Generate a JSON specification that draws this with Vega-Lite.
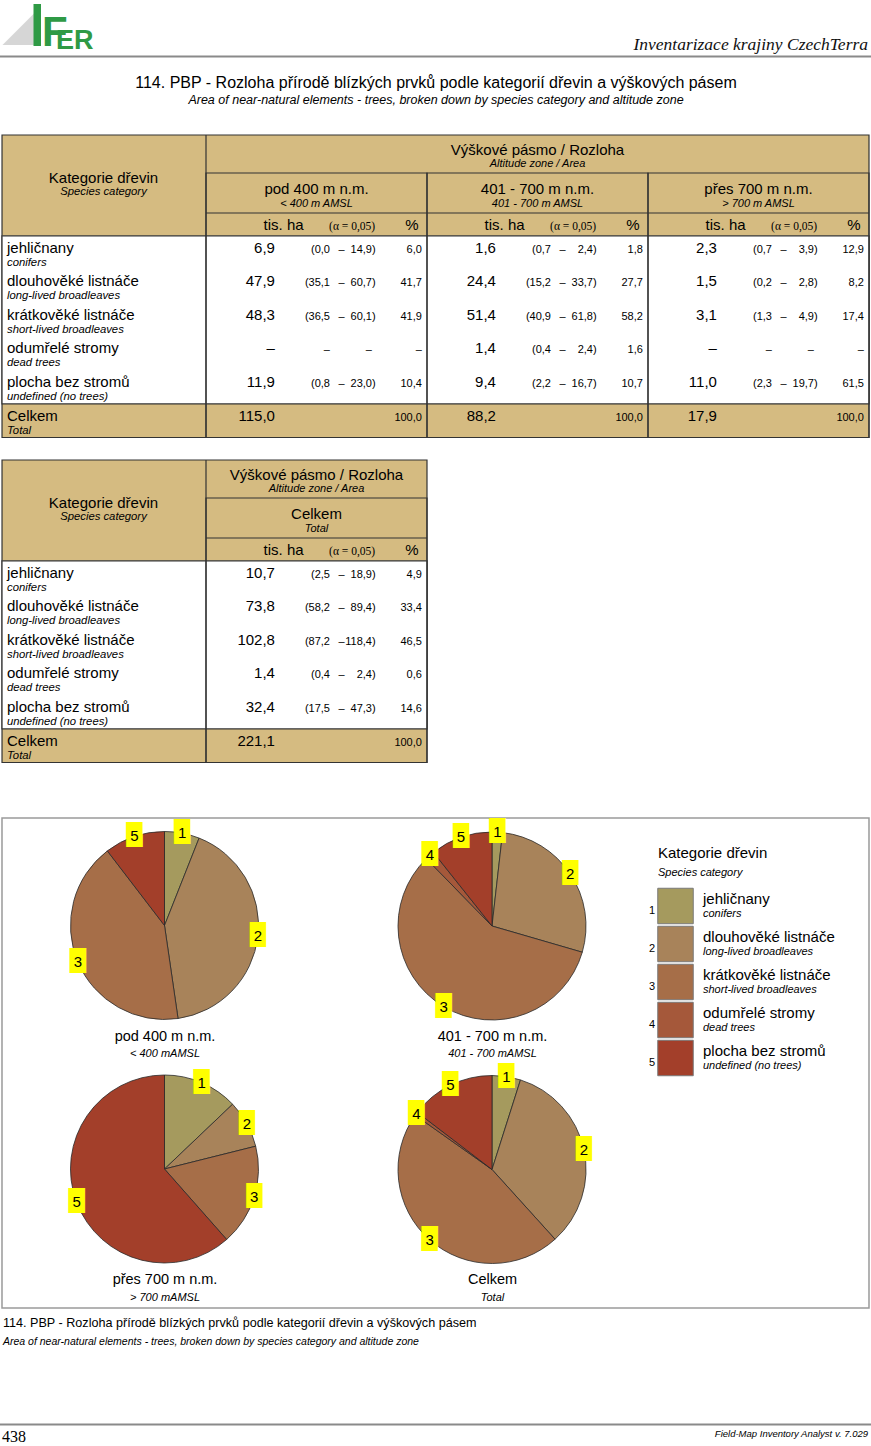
{
"$schema":"https://vega.github.io/schema/vega-lite/v6.json",
"width":871,"height":1446,"padding":0,"autosize":{"type":"none"},
"background":"#ffffff",
"config":{"view":{"stroke":null},"locale":{"number":{"decimal":",","thousands":" ","grouping":[3],"currency":["(",""]}},"text":{"font":"Liberation Sans","color":"#000000","baseline":"alphabetic"}},
"datasets":{
"zones":[
{"zone":"pod 400 m n.m.","zen":"< 400 m AMSL","pen":"< 400 mAMSL"},
{"zone":"401 - 700 m n.m.","zen":"401 - 700 m AMSL","pen":"401 - 700 mAMSL"},
{"zone":"přes 700 m n.m.","zen":"> 700 m AMSL","pen":"> 700 mAMSL"},
{"zone":"Celkem","zen":"Total","pen":"Total"}
],
"cats":[
{"k":1,"cat":"jehličnany","en":"conifers"},
{"k":2,"cat":"dlouhověké listnáče","en":"long-lived broadleaves"},
{"k":3,"cat":"krátkověké listnáče","en":"short-lived broadleaves"},
{"k":4,"cat":"odumřelé stromy","en":"dead trees"},
{"k":5,"cat":"plocha bez stromů","en":"undefined (no trees)"}
],
"area":[
{"zone":"pod 400 m n.m.","k":1,"ha":6.9,"lo":0.0,"hi":14.9,"pct":6.0},
{"zone":"pod 400 m n.m.","k":2,"ha":47.9,"lo":35.1,"hi":60.7,"pct":41.7},
{"zone":"pod 400 m n.m.","k":3,"ha":48.3,"lo":36.5,"hi":60.1,"pct":41.9},
{"zone":"pod 400 m n.m.","k":4,"ha":null,"lo":null,"hi":null,"pct":null},
{"zone":"pod 400 m n.m.","k":5,"ha":11.9,"lo":0.8,"hi":23.0,"pct":10.4},
{"zone":"401 - 700 m n.m.","k":1,"ha":1.6,"lo":0.7,"hi":2.4,"pct":1.8},
{"zone":"401 - 700 m n.m.","k":2,"ha":24.4,"lo":15.2,"hi":33.7,"pct":27.7},
{"zone":"401 - 700 m n.m.","k":3,"ha":51.4,"lo":40.9,"hi":61.8,"pct":58.2},
{"zone":"401 - 700 m n.m.","k":4,"ha":1.4,"lo":0.4,"hi":2.4,"pct":1.6},
{"zone":"401 - 700 m n.m.","k":5,"ha":9.4,"lo":2.2,"hi":16.7,"pct":10.7},
{"zone":"přes 700 m n.m.","k":1,"ha":2.3,"lo":0.7,"hi":3.9,"pct":12.9},
{"zone":"přes 700 m n.m.","k":2,"ha":1.5,"lo":0.2,"hi":2.8,"pct":8.2},
{"zone":"přes 700 m n.m.","k":3,"ha":3.1,"lo":1.3,"hi":4.9,"pct":17.4},
{"zone":"přes 700 m n.m.","k":4,"ha":null,"lo":null,"hi":null,"pct":null},
{"zone":"přes 700 m n.m.","k":5,"ha":11.0,"lo":2.3,"hi":19.7,"pct":61.5},
{"zone":"Celkem","k":1,"ha":10.7,"lo":2.5,"hi":18.9,"pct":4.9},
{"zone":"Celkem","k":2,"ha":73.8,"lo":58.2,"hi":89.4,"pct":33.4},
{"zone":"Celkem","k":3,"ha":102.8,"lo":87.2,"hi":118.4,"pct":46.5},
{"zone":"Celkem","k":4,"ha":1.4,"lo":0.4,"hi":2.4,"pct":0.6},
{"zone":"Celkem","k":5,"ha":32.4,"lo":17.5,"hi":47.3,"pct":14.6}
],
"totals":[
{"zone":"pod 400 m n.m.","ha":115.0,"pct":100.0},
{"zone":"401 - 700 m n.m.","ha":88.2,"pct":100.0},
{"zone":"přes 700 m n.m.","ha":17.9,"pct":100.0},
{"zone":"Celkem","ha":221.1,"pct":100.0}
]
},
"resolve":{"scale":{"x":"independent","y":"independent","theta":"independent"}},
"layer":[
{"data":{"values":[{}]},"mark":{"type":"point","shape":"M 1 -1 L 1 1 L -1 1 Z","size":1024,"filled":true,"fill":"#d6d6d6","opacity":1,"strokeWidth":0},"encoding":{"x":{"datum":2.124,"type":"quantitative","scale":{"domain":[0,100],"range":[0,871],"nice":false,"zero":false},"axis":null},"y":{"datum":2.006,"type":"quantitative","scale":{"domain":[0,100],"range":[0,1446],"nice":false,"zero":false},"axis":null}}},
{"data":{"values":[{}]},"mark":{"type":"rect","fill":"#2f9a45"},"encoding":{"x":{"datum":3.846,"type":"quantitative","scale":{"domain":[0,100],"range":[0,871],"nice":false,"zero":false},"axis":null},"x2":{"datum":4.707},"y":{"datum":0.277,"type":"quantitative","scale":{"domain":[0,100],"range":[0,1446],"nice":false,"zero":false},"axis":null},"y2":{"datum":3.181}}},
{"data":{"values":[{}]},"mark":{"type":"text","text":"F","fontSize":42,"fontWeight":"bold","align":"left","color":"#2f9a45"},"encoding":{"x":{"datum":4.82,"type":"quantitative","scale":{"domain":[0,100],"range":[0,871],"nice":false,"zero":false},"axis":null},"y":{"datum":3.18,"type":"quantitative","scale":{"domain":[0,100],"range":[0,1446],"nice":false,"zero":false},"axis":null}}},
{"data":{"values":[{}]},"mark":{"type":"text","text":"ER","fontSize":27,"fontWeight":"bold","align":"left","color":"#2f9a45"},"encoding":{"x":{"datum":6.429,"type":"quantitative","scale":{"domain":[0,100],"range":[0,871],"nice":false,"zero":false},"axis":null},"y":{"datum":3.389,"type":"quantitative","scale":{"domain":[0,100],"range":[0,1446],"nice":false,"zero":false},"axis":null}}},
{"data":{"values":[{}]},"mark":{"type":"text","text":"Inventarizace krajiny CzechTerra","font":"Liberation Serif","fontStyle":"italic","fontSize":17.5,"align":"right","color":"#111111"},"encoding":{"x":{"datum":99.656,"type":"quantitative","scale":{"domain":[0,100],"range":[0,871],"nice":false,"zero":false},"axis":null},"y":{"datum":3.458,"type":"quantitative","scale":{"domain":[0,100],"range":[0,1446],"nice":false,"zero":false},"axis":null}}},
{"data":{"values":[{}]},"mark":{"type":"rule","color":"#8a8a8a","strokeWidth":2},"encoding":{"x":{"datum":0,"type":"quantitative","scale":{"domain":[0,100],"range":[0,871],"nice":false,"zero":false},"axis":null},"x2":{"datum":100},"y":{"datum":3.907,"type":"quantitative","scale":{"domain":[0,100],"range":[0,1446],"nice":false,"zero":false},"axis":null}}},
{"data":{"values":[{}]},"mark":{"type":"text","text":"114. PBP - Rozloha přírodě blízkých prvků podle kategorií dřevin a výškových pásem","fontSize":16,"align":"center"},"encoding":{"x":{"datum":50.057,"type":"quantitative","scale":{"domain":[0,100],"range":[0,871],"nice":false,"zero":false},"axis":null},"y":{"datum":6.086,"type":"quantitative","scale":{"domain":[0,100],"range":[0,1446],"nice":false,"zero":false},"axis":null}}},
{"data":{"values":[{}]},"mark":{"type":"text","text":"Area of near-natural elements - trees, broken down by species category and altitude zone","fontSize":12.5,"fontStyle":"italic","align":"center"},"encoding":{"x":{"datum":50.057,"type":"quantitative","scale":{"domain":[0,100],"range":[0,871],"nice":false,"zero":false},"axis":null},"y":{"datum":7.192,"type":"quantitative","scale":{"domain":[0,100],"range":[0,1446],"nice":false,"zero":false},"axis":null}}},

{"data":{"values":[{}]},"mark":{"type":"rect","fill":"#D5BB81","stroke":"#333333","strokeWidth":1.2},"encoding":{"x":{"datum":-0.923,"type":"quantitative","scale":{"domain":[0,3],"range":[206,869],"nice":false,"zero":false},"axis":null},"x2":{"datum":3},"y":{"datum":-2.5,"type":"quantitative","scale":{"domain":[-2.5,6.5],"range":[135,437.5],"nice":false,"zero":false},"axis":null},"y2":{"datum":6.5}}},
{"data":{"values":[{}]},"mark":{"type":"rect","fill":"#ffffff","stroke":"#333333","strokeWidth":1.2},"encoding":{"x":{"datum":-0.923,"type":"quantitative","scale":{"domain":[0,3],"range":[206,869],"nice":false,"zero":false},"axis":null},"x2":{"datum":3},"y":{"datum":0.5,"type":"quantitative","scale":{"domain":[-2.5,6.5],"range":[135,437.5],"nice":false,"zero":false},"axis":null},"y2":{"datum":5.5}}},
{"data":{"name":"zones"},"transform":[{"filter":"datum.zone !== 'Celkem'"}],"mark":{"type":"rect","filled":false,"stroke":"#333333","strokeWidth":1.2},"encoding":{"x":{"field":"zone","type":"nominal","scale":{"type":"band","domain":["pod 400 m n.m.","401 - 700 m n.m.","přes 700 m n.m."],"range":[206,869],"paddingInner":0,"paddingOuter":0},"axis":null},"y":{"datum":-1.37,"type":"quantitative","scale":{"domain":[-2.5,6.5],"range":[135,437.5],"nice":false,"zero":false},"axis":null},"y2":{"datum":6.5}}},
{"data":{"values":[{}]},"mark":{"type":"rule","color":"#333333","strokeWidth":1.2},"encoding":{"x":{"datum":0,"type":"quantitative","scale":{"domain":[0,3],"range":[206,869],"nice":false,"zero":false},"axis":null},"x2":{"datum":3},"y":{"datum":-0.18,"type":"quantitative","scale":{"domain":[-2.5,6.5],"range":[135,437.5],"nice":false,"zero":false},"axis":null}}},
{"data":{"values":[{}]},"mark":{"type":"rule","color":"#333333","strokeWidth":1.2},"encoding":{"x":{"datum":0,"type":"quantitative","scale":{"domain":[0,3],"range":[206,869],"nice":false,"zero":false},"axis":null},"y":{"datum":-2.5,"type":"quantitative","scale":{"domain":[-2.5,6.5],"range":[135,437.5],"nice":false,"zero":false},"axis":null},"y2":{"datum":6.5}}},
{"data":{"values":[{}]},"mark":{"type":"text","text":"Kategorie dřevin","fontSize":15,"align":"center"},"encoding":{"x":{"datum":-0.464,"type":"quantitative","scale":{"domain":[0,3],"range":[206,869],"nice":false,"zero":false},"axis":null},"y":{"datum":-1.072,"type":"quantitative","scale":{"domain":[-2.5,6.5],"range":[135,437.5],"nice":false,"zero":false},"axis":null}}},
{"data":{"values":[{}]},"mark":{"type":"text","text":"Species category","fontSize":11.3,"fontStyle":"italic","align":"center"},"encoding":{"x":{"datum":-0.464,"type":"quantitative","scale":{"domain":[0,3],"range":[206,869],"nice":false,"zero":false},"axis":null},"y":{"datum":-0.715,"type":"quantitative","scale":{"domain":[-2.5,6.5],"range":[135,437.5],"nice":false,"zero":false},"axis":null}}},
{"data":{"values":[{}]},"mark":{"type":"text","text":"Výškové pásmo / Rozloha","fontSize":15,"align":"center"},"encoding":{"x":{"datum":1.5,"type":"quantitative","scale":{"domain":[0,3],"range":[206,869],"nice":false,"zero":false},"axis":null},"y":{"datum":-1.905,"type":"quantitative","scale":{"domain":[-2.5,6.5],"range":[135,437.5],"nice":false,"zero":false},"axis":null}}},
{"data":{"values":[{}]},"mark":{"type":"text","text":"Altitude zone / Area","fontSize":11,"fontStyle":"italic","align":"center"},"encoding":{"x":{"datum":1.5,"type":"quantitative","scale":{"domain":[0,3],"range":[206,869],"nice":false,"zero":false},"axis":null},"y":{"datum":-1.548,"type":"quantitative","scale":{"domain":[-2.5,6.5],"range":[135,437.5],"nice":false,"zero":false},"axis":null}}},
{"data":{"name":"zones"},"transform":[{"filter":"datum.zone !== 'Celkem'"}],"mark":{"type":"text","fontSize":15,"align":"center"},"encoding":{"text":{"field":"zone","type":"nominal"},"x":{"field":"zone","type":"nominal","scale":{"type":"band","domain":["pod 400 m n.m.","401 - 700 m n.m.","přes 700 m n.m."],"range":[206,869],"paddingInner":0,"paddingOuter":0},"axis":null},"y":{"datum":-0.745,"type":"quantitative","scale":{"domain":[-2.5,6.5],"range":[135,437.5],"nice":false,"zero":false},"axis":null}}},
{"data":{"name":"zones"},"transform":[{"filter":"datum.zone !== 'Celkem'"}],"mark":{"type":"text","fontSize":11,"fontStyle":"italic","align":"center"},"encoding":{"text":{"field":"zen","type":"nominal"},"x":{"field":"zone","type":"nominal","scale":{"type":"band","domain":["pod 400 m n.m.","401 - 700 m n.m.","přes 700 m n.m."],"range":[206,869],"paddingInner":0,"paddingOuter":0},"axis":null},"y":{"datum":-0.358,"type":"quantitative","scale":{"domain":[-2.5,6.5],"range":[135,437.5],"nice":false,"zero":false},"axis":null}}},
{"data":{"name":"zones"},"transform":[{"filter":"datum.zone !== 'Celkem'"}],"mark":{"type":"text","text":"tis. ha","fontSize":15,"align":"center"},"encoding":{"x":{"field":"zone","type":"nominal","bandPosition":0.351,"scale":{"type":"band","domain":["pod 400 m n.m.","401 - 700 m n.m.","přes 700 m n.m."],"range":[206,869],"paddingInner":0,"paddingOuter":0},"axis":null},"y":{"datum":0.3265,"type":"quantitative","scale":{"domain":[-2.5,6.5],"range":[135,437.5],"nice":false,"zero":false},"axis":null}}},
{"data":{"name":"zones"},"transform":[{"filter":"datum.zone !== 'Celkem'"}],"mark":{"type":"text","text":"(α = 0,05)","font":"Liberation Serif","fontSize":11.5,"align":"center"},"encoding":{"x":{"field":"zone","type":"nominal","bandPosition":0.661,"scale":{"type":"band","domain":["pod 400 m n.m.","401 - 700 m n.m.","přes 700 m n.m."],"range":[206,869],"paddingInner":0,"paddingOuter":0},"axis":null},"y":{"datum":0.3265,"type":"quantitative","scale":{"domain":[-2.5,6.5],"range":[135,437.5],"nice":false,"zero":false},"axis":null}}},
{"data":{"name":"zones"},"transform":[{"filter":"datum.zone !== 'Celkem'"}],"mark":{"type":"text","text":"%","fontSize":15,"align":"center"},"encoding":{"x":{"field":"zone","type":"nominal","bandPosition":0.932,"scale":{"type":"band","domain":["pod 400 m n.m.","401 - 700 m n.m.","přes 700 m n.m."],"range":[206,869],"paddingInner":0,"paddingOuter":0},"axis":null},"y":{"datum":0.3265,"type":"quantitative","scale":{"domain":[-2.5,6.5],"range":[135,437.5],"nice":false,"zero":false},"axis":null}}},
{"data":{"name":"cats"},"mark":{"type":"text","fontSize":15,"align":"left"},"encoding":{"text":{"field":"cat","type":"nominal"},"x":{"datum":-0.9005,"type":"quantitative","scale":{"domain":[0,3],"range":[206,869],"nice":false,"zero":false},"axis":null},"y":{"field":"k","type":"quantitative","scale":{"domain":[-2.5,6.5],"range":[135,437.5],"nice":false,"zero":false},"axis":null}}},
{"data":{"name":"cats"},"mark":{"type":"text","fontSize":11.3,"fontStyle":"italic","align":"left"},"encoding":{"text":{"field":"en","type":"nominal"},"x":{"datum":-0.9005,"type":"quantitative","scale":{"domain":[0,3],"range":[206,869],"nice":false,"zero":false},"axis":null},"y":{"field":"k","type":"quantitative","scale":{"domain":[-2.5,6.5],"range":[148,450.5],"nice":false,"zero":false},"axis":null}}},
{"data":{"values":[{}]},"mark":{"type":"text","text":"Celkem","fontSize":15,"align":"left"},"encoding":{"x":{"datum":-0.9005,"type":"quantitative","scale":{"domain":[0,3],"range":[206,869],"nice":false,"zero":false},"axis":null},"y":{"datum":6,"type":"quantitative","scale":{"domain":[-2.5,6.5],"range":[135,437.5],"nice":false,"zero":false},"axis":null}}},
{"data":{"values":[{}]},"mark":{"type":"text","text":"Total","fontSize":11.3,"fontStyle":"italic","align":"left"},"encoding":{"x":{"datum":-0.9005,"type":"quantitative","scale":{"domain":[0,3],"range":[206,869],"nice":false,"zero":false},"axis":null},"y":{"datum":6,"type":"quantitative","scale":{"domain":[-2.5,6.5],"range":[148,450.5],"nice":false,"zero":false},"axis":null}}},
{"data":{"name":"area"},"transform":[{"filter":"datum.zone !== 'Celkem'"}],"mark":{"type":"text","fontSize":15,"align":"right"},"encoding":{"text":{"field":"ha","type":"quantitative","format":".1f","condition":{"test":"datum.ha === null","value":"–"}},"x":{"field":"zone","type":"nominal","bandPosition":0.312,"scale":{"type":"band","domain":["pod 400 m n.m.","401 - 700 m n.m.","přes 700 m n.m."],"range":[206,869],"paddingInner":0,"paddingOuter":0},"axis":null},"y":{"field":"k","type":"quantitative","scale":{"domain":[-2.5,6.5],"range":[135,437.5],"nice":false,"zero":false},"axis":null}}},
{"data":{"name":"area"},"transform":[{"filter":"datum.zone !== 'Celkem'"}],"mark":{"type":"text","fontSize":11,"align":"right"},"encoding":{"text":{"field":"lo","type":"quantitative","format":"$.1f","condition":{"test":"datum.lo === null","value":"–"}},"x":{"field":"zone","type":"nominal","bandPosition":0.561,"scale":{"type":"band","domain":["pod 400 m n.m.","401 - 700 m n.m.","přes 700 m n.m."],"range":[206,869],"paddingInner":0,"paddingOuter":0},"axis":null},"y":{"field":"k","type":"quantitative","scale":{"domain":[-2.5,6.5],"range":[135,437.5],"nice":false,"zero":false},"axis":null}}},
{"data":{"name":"area"},"transform":[{"filter":"datum.zone !== 'Celkem' && datum.lo !== null"}],"mark":{"type":"text","text":"–","fontSize":11,"align":"center"},"encoding":{"x":{"field":"zone","type":"nominal","bandPosition":0.613,"scale":{"type":"band","domain":["pod 400 m n.m.","401 - 700 m n.m.","přes 700 m n.m."],"range":[206,869],"paddingInner":0,"paddingOuter":0},"axis":null},"y":{"field":"k","type":"quantitative","scale":{"domain":[-2.5,6.5],"range":[135,437.5],"nice":false,"zero":false},"axis":null}}},
{"data":{"name":"area"},"transform":[{"filter":"datum.zone !== 'Celkem'"}],"mark":{"type":"text","fontSize":11,"align":"right"},"encoding":{"text":{"field":"hi","type":"quantitative","format":".1f","condition":{"test":"datum.hi === null","value":"–"}},"x":{"field":"zone","type":"nominal","bandPosition":0.751,"scale":{"type":"band","domain":["pod 400 m n.m.","401 - 700 m n.m.","přes 700 m n.m."],"range":[206,869],"paddingInner":0,"paddingOuter":0},"axis":null},"y":{"field":"k","type":"quantitative","scale":{"domain":[-2.5,6.5],"range":[135,437.5],"nice":false,"zero":false},"axis":null}}},
{"data":{"name":"area"},"transform":[{"filter":"datum.zone !== 'Celkem' && datum.hi !== null"}],"mark":{"type":"text","text":")","fontSize":11,"align":"left"},"encoding":{"x":{"field":"zone","type":"nominal","bandPosition":0.751,"scale":{"type":"band","domain":["pod 400 m n.m.","401 - 700 m n.m.","přes 700 m n.m."],"range":[206,869],"paddingInner":0,"paddingOuter":0},"axis":null},"y":{"field":"k","type":"quantitative","scale":{"domain":[-2.5,6.5],"range":[135,437.5],"nice":false,"zero":false},"axis":null}}},
{"data":{"name":"area"},"transform":[{"filter":"datum.zone !== 'Celkem'"}],"mark":{"type":"text","fontSize":11,"align":"right"},"encoding":{"text":{"field":"pct","type":"quantitative","format":".1f","condition":{"test":"datum.pct === null","value":"–"}},"x":{"field":"zone","type":"nominal","bandPosition":0.977,"scale":{"type":"band","domain":["pod 400 m n.m.","401 - 700 m n.m.","přes 700 m n.m."],"range":[206,869],"paddingInner":0,"paddingOuter":0},"axis":null},"y":{"field":"k","type":"quantitative","scale":{"domain":[-2.5,6.5],"range":[135,437.5],"nice":false,"zero":false},"axis":null}}},
{"data":{"name":"totals"},"transform":[{"filter":"datum.zone !== 'Celkem'"}],"mark":{"type":"text","fontSize":15,"align":"right"},"encoding":{"text":{"field":"ha","type":"quantitative","format":".1f"},"x":{"field":"zone","type":"nominal","bandPosition":0.312,"scale":{"type":"band","domain":["pod 400 m n.m.","401 - 700 m n.m.","přes 700 m n.m."],"range":[206,869],"paddingInner":0,"paddingOuter":0},"axis":null},"y":{"datum":6,"type":"quantitative","scale":{"domain":[-2.5,6.5],"range":[135,437.5],"nice":false,"zero":false},"axis":null}}},
{"data":{"name":"totals"},"transform":[{"filter":"datum.zone !== 'Celkem'"}],"mark":{"type":"text","fontSize":11,"align":"right"},"encoding":{"text":{"field":"pct","type":"quantitative","format":".1f"},"x":{"field":"zone","type":"nominal","bandPosition":0.977,"scale":{"type":"band","domain":["pod 400 m n.m.","401 - 700 m n.m.","přes 700 m n.m."],"range":[206,869],"paddingInner":0,"paddingOuter":0},"axis":null},"y":{"datum":6,"type":"quantitative","scale":{"domain":[-2.5,6.5],"range":[135,437.5],"nice":false,"zero":false},"axis":null}}},

{"data":{"values":[{}]},"mark":{"type":"rect","fill":"#D5BB81","stroke":"#333333","strokeWidth":1.2},"encoding":{"x":{"datum":-0.923,"type":"quantitative","scale":{"domain":[0,1],"range":[206,427],"nice":false,"zero":false},"axis":null},"x2":{"datum":1},"y":{"datum":-2.5,"type":"quantitative","scale":{"domain":[-2.5,6.5],"range":[460,762.5],"nice":false,"zero":false},"axis":null},"y2":{"datum":6.5}}},
{"data":{"values":[{}]},"mark":{"type":"rect","fill":"#ffffff","stroke":"#333333","strokeWidth":1.2},"encoding":{"x":{"datum":-0.923,"type":"quantitative","scale":{"domain":[0,1],"range":[206,427],"nice":false,"zero":false},"axis":null},"x2":{"datum":1},"y":{"datum":0.5,"type":"quantitative","scale":{"domain":[-2.5,6.5],"range":[460,762.5],"nice":false,"zero":false},"axis":null},"y2":{"datum":5.5}}},
{"data":{"name":"zones"},"transform":[{"filter":"datum.zone === 'Celkem'"}],"mark":{"type":"rect","filled":false,"stroke":"#333333","strokeWidth":1.2},"encoding":{"x":{"field":"zone","type":"nominal","scale":{"type":"band","domain":["Celkem"],"range":[206,427],"paddingInner":0,"paddingOuter":0},"axis":null},"y":{"datum":-1.37,"type":"quantitative","scale":{"domain":[-2.5,6.5],"range":[460,762.5],"nice":false,"zero":false},"axis":null},"y2":{"datum":6.5}}},
{"data":{"values":[{}]},"mark":{"type":"rule","color":"#333333","strokeWidth":1.2},"encoding":{"x":{"datum":0,"type":"quantitative","scale":{"domain":[0,1],"range":[206,427],"nice":false,"zero":false},"axis":null},"x2":{"datum":1},"y":{"datum":-0.18,"type":"quantitative","scale":{"domain":[-2.5,6.5],"range":[460,762.5],"nice":false,"zero":false},"axis":null}}},
{"data":{"values":[{}]},"mark":{"type":"rule","color":"#333333","strokeWidth":1.2},"encoding":{"x":{"datum":0,"type":"quantitative","scale":{"domain":[0,1],"range":[206,427],"nice":false,"zero":false},"axis":null},"y":{"datum":-2.5,"type":"quantitative","scale":{"domain":[-2.5,6.5],"range":[460,762.5],"nice":false,"zero":false},"axis":null},"y2":{"datum":6.5}}},
{"data":{"values":[{}]},"mark":{"type":"text","text":"Kategorie dřevin","fontSize":15,"align":"center"},"encoding":{"x":{"datum":-0.464,"type":"quantitative","scale":{"domain":[0,1],"range":[206,427],"nice":false,"zero":false},"axis":null},"y":{"datum":-1.072,"type":"quantitative","scale":{"domain":[-2.5,6.5],"range":[460,762.5],"nice":false,"zero":false},"axis":null}}},
{"data":{"values":[{}]},"mark":{"type":"text","text":"Species category","fontSize":11.3,"fontStyle":"italic","align":"center"},"encoding":{"x":{"datum":-0.464,"type":"quantitative","scale":{"domain":[0,1],"range":[206,427],"nice":false,"zero":false},"axis":null},"y":{"datum":-0.715,"type":"quantitative","scale":{"domain":[-2.5,6.5],"range":[460,762.5],"nice":false,"zero":false},"axis":null}}},
{"data":{"values":[{}]},"mark":{"type":"text","text":"Výškové pásmo / Rozloha","fontSize":15,"align":"center"},"encoding":{"x":{"datum":0.5,"type":"quantitative","scale":{"domain":[0,1],"range":[206,427],"nice":false,"zero":false},"axis":null},"y":{"datum":-1.905,"type":"quantitative","scale":{"domain":[-2.5,6.5],"range":[460,762.5],"nice":false,"zero":false},"axis":null}}},
{"data":{"values":[{}]},"mark":{"type":"text","text":"Altitude zone / Area","fontSize":11,"fontStyle":"italic","align":"center"},"encoding":{"x":{"datum":0.5,"type":"quantitative","scale":{"domain":[0,1],"range":[206,427],"nice":false,"zero":false},"axis":null},"y":{"datum":-1.548,"type":"quantitative","scale":{"domain":[-2.5,6.5],"range":[460,762.5],"nice":false,"zero":false},"axis":null}}},
{"data":{"name":"zones"},"transform":[{"filter":"datum.zone === 'Celkem'"}],"mark":{"type":"text","fontSize":15,"align":"center"},"encoding":{"text":{"field":"zone","type":"nominal"},"x":{"field":"zone","type":"nominal","scale":{"type":"band","domain":["Celkem"],"range":[206,427],"paddingInner":0,"paddingOuter":0},"axis":null},"y":{"datum":-0.745,"type":"quantitative","scale":{"domain":[-2.5,6.5],"range":[460,762.5],"nice":false,"zero":false},"axis":null}}},
{"data":{"name":"zones"},"transform":[{"filter":"datum.zone === 'Celkem'"}],"mark":{"type":"text","fontSize":11,"fontStyle":"italic","align":"center"},"encoding":{"text":{"field":"zen","type":"nominal"},"x":{"field":"zone","type":"nominal","scale":{"type":"band","domain":["Celkem"],"range":[206,427],"paddingInner":0,"paddingOuter":0},"axis":null},"y":{"datum":-0.358,"type":"quantitative","scale":{"domain":[-2.5,6.5],"range":[460,762.5],"nice":false,"zero":false},"axis":null}}},
{"data":{"name":"zones"},"transform":[{"filter":"datum.zone === 'Celkem'"}],"mark":{"type":"text","text":"tis. ha","fontSize":15,"align":"center"},"encoding":{"x":{"field":"zone","type":"nominal","bandPosition":0.351,"scale":{"type":"band","domain":["Celkem"],"range":[206,427],"paddingInner":0,"paddingOuter":0},"axis":null},"y":{"datum":0.3265,"type":"quantitative","scale":{"domain":[-2.5,6.5],"range":[460,762.5],"nice":false,"zero":false},"axis":null}}},
{"data":{"name":"zones"},"transform":[{"filter":"datum.zone === 'Celkem'"}],"mark":{"type":"text","text":"(α = 0,05)","font":"Liberation Serif","fontSize":11.5,"align":"center"},"encoding":{"x":{"field":"zone","type":"nominal","bandPosition":0.661,"scale":{"type":"band","domain":["Celkem"],"range":[206,427],"paddingInner":0,"paddingOuter":0},"axis":null},"y":{"datum":0.3265,"type":"quantitative","scale":{"domain":[-2.5,6.5],"range":[460,762.5],"nice":false,"zero":false},"axis":null}}},
{"data":{"name":"zones"},"transform":[{"filter":"datum.zone === 'Celkem'"}],"mark":{"type":"text","text":"%","fontSize":15,"align":"center"},"encoding":{"x":{"field":"zone","type":"nominal","bandPosition":0.932,"scale":{"type":"band","domain":["Celkem"],"range":[206,427],"paddingInner":0,"paddingOuter":0},"axis":null},"y":{"datum":0.3265,"type":"quantitative","scale":{"domain":[-2.5,6.5],"range":[460,762.5],"nice":false,"zero":false},"axis":null}}},
{"data":{"name":"cats"},"mark":{"type":"text","fontSize":15,"align":"left"},"encoding":{"text":{"field":"cat","type":"nominal"},"x":{"datum":-0.9005,"type":"quantitative","scale":{"domain":[0,1],"range":[206,427],"nice":false,"zero":false},"axis":null},"y":{"field":"k","type":"quantitative","scale":{"domain":[-2.5,6.5],"range":[460,762.5],"nice":false,"zero":false},"axis":null}}},
{"data":{"name":"cats"},"mark":{"type":"text","fontSize":11.3,"fontStyle":"italic","align":"left"},"encoding":{"text":{"field":"en","type":"nominal"},"x":{"datum":-0.9005,"type":"quantitative","scale":{"domain":[0,1],"range":[206,427],"nice":false,"zero":false},"axis":null},"y":{"field":"k","type":"quantitative","scale":{"domain":[-2.5,6.5],"range":[473,775.5],"nice":false,"zero":false},"axis":null}}},
{"data":{"values":[{}]},"mark":{"type":"text","text":"Celkem","fontSize":15,"align":"left"},"encoding":{"x":{"datum":-0.9005,"type":"quantitative","scale":{"domain":[0,1],"range":[206,427],"nice":false,"zero":false},"axis":null},"y":{"datum":6,"type":"quantitative","scale":{"domain":[-2.5,6.5],"range":[460,762.5],"nice":false,"zero":false},"axis":null}}},
{"data":{"values":[{}]},"mark":{"type":"text","text":"Total","fontSize":11.3,"fontStyle":"italic","align":"left"},"encoding":{"x":{"datum":-0.9005,"type":"quantitative","scale":{"domain":[0,1],"range":[206,427],"nice":false,"zero":false},"axis":null},"y":{"datum":6,"type":"quantitative","scale":{"domain":[-2.5,6.5],"range":[473,775.5],"nice":false,"zero":false},"axis":null}}},
{"data":{"name":"area"},"transform":[{"filter":"datum.zone === 'Celkem'"}],"mark":{"type":"text","fontSize":15,"align":"right"},"encoding":{"text":{"field":"ha","type":"quantitative","format":".1f","condition":{"test":"datum.ha === null","value":"–"}},"x":{"field":"zone","type":"nominal","bandPosition":0.312,"scale":{"type":"band","domain":["Celkem"],"range":[206,427],"paddingInner":0,"paddingOuter":0},"axis":null},"y":{"field":"k","type":"quantitative","scale":{"domain":[-2.5,6.5],"range":[460,762.5],"nice":false,"zero":false},"axis":null}}},
{"data":{"name":"area"},"transform":[{"filter":"datum.zone === 'Celkem'"}],"mark":{"type":"text","fontSize":11,"align":"right"},"encoding":{"text":{"field":"lo","type":"quantitative","format":"$.1f","condition":{"test":"datum.lo === null","value":"–"}},"x":{"field":"zone","type":"nominal","bandPosition":0.561,"scale":{"type":"band","domain":["Celkem"],"range":[206,427],"paddingInner":0,"paddingOuter":0},"axis":null},"y":{"field":"k","type":"quantitative","scale":{"domain":[-2.5,6.5],"range":[460,762.5],"nice":false,"zero":false},"axis":null}}},
{"data":{"name":"area"},"transform":[{"filter":"datum.zone === 'Celkem' && datum.lo !== null"}],"mark":{"type":"text","text":"–","fontSize":11,"align":"center"},"encoding":{"x":{"field":"zone","type":"nominal","bandPosition":0.613,"scale":{"type":"band","domain":["Celkem"],"range":[206,427],"paddingInner":0,"paddingOuter":0},"axis":null},"y":{"field":"k","type":"quantitative","scale":{"domain":[-2.5,6.5],"range":[460,762.5],"nice":false,"zero":false},"axis":null}}},
{"data":{"name":"area"},"transform":[{"filter":"datum.zone === 'Celkem'"}],"mark":{"type":"text","fontSize":11,"align":"right"},"encoding":{"text":{"field":"hi","type":"quantitative","format":".1f","condition":{"test":"datum.hi === null","value":"–"}},"x":{"field":"zone","type":"nominal","bandPosition":0.751,"scale":{"type":"band","domain":["Celkem"],"range":[206,427],"paddingInner":0,"paddingOuter":0},"axis":null},"y":{"field":"k","type":"quantitative","scale":{"domain":[-2.5,6.5],"range":[460,762.5],"nice":false,"zero":false},"axis":null}}},
{"data":{"name":"area"},"transform":[{"filter":"datum.zone === 'Celkem' && datum.hi !== null"}],"mark":{"type":"text","text":")","fontSize":11,"align":"left"},"encoding":{"x":{"field":"zone","type":"nominal","bandPosition":0.751,"scale":{"type":"band","domain":["Celkem"],"range":[206,427],"paddingInner":0,"paddingOuter":0},"axis":null},"y":{"field":"k","type":"quantitative","scale":{"domain":[-2.5,6.5],"range":[460,762.5],"nice":false,"zero":false},"axis":null}}},
{"data":{"name":"area"},"transform":[{"filter":"datum.zone === 'Celkem'"}],"mark":{"type":"text","fontSize":11,"align":"right"},"encoding":{"text":{"field":"pct","type":"quantitative","format":".1f","condition":{"test":"datum.pct === null","value":"–"}},"x":{"field":"zone","type":"nominal","bandPosition":0.977,"scale":{"type":"band","domain":["Celkem"],"range":[206,427],"paddingInner":0,"paddingOuter":0},"axis":null},"y":{"field":"k","type":"quantitative","scale":{"domain":[-2.5,6.5],"range":[460,762.5],"nice":false,"zero":false},"axis":null}}},
{"data":{"name":"totals"},"transform":[{"filter":"datum.zone === 'Celkem'"}],"mark":{"type":"text","fontSize":15,"align":"right"},"encoding":{"text":{"field":"ha","type":"quantitative","format":".1f"},"x":{"field":"zone","type":"nominal","bandPosition":0.312,"scale":{"type":"band","domain":["Celkem"],"range":[206,427],"paddingInner":0,"paddingOuter":0},"axis":null},"y":{"datum":6,"type":"quantitative","scale":{"domain":[-2.5,6.5],"range":[460,762.5],"nice":false,"zero":false},"axis":null}}},
{"data":{"name":"totals"},"transform":[{"filter":"datum.zone === 'Celkem'"}],"mark":{"type":"text","fontSize":11,"align":"right"},"encoding":{"text":{"field":"pct","type":"quantitative","format":".1f"},"x":{"field":"zone","type":"nominal","bandPosition":0.977,"scale":{"type":"band","domain":["Celkem"],"range":[206,427],"paddingInner":0,"paddingOuter":0},"axis":null},"y":{"datum":6,"type":"quantitative","scale":{"domain":[-2.5,6.5],"range":[460,762.5],"nice":false,"zero":false},"axis":null}}},

{"data":{"values":[{}]},"mark":{"type":"rect","filled":false,"stroke":"#9a9a9a","strokeWidth":1.5},"encoding":{"x":{"datum":0.2296,"type":"quantitative","scale":{"domain":[0,100],"range":[0,871],"nice":false,"zero":false},"axis":null},"x2":{"datum":99.77},"y":{"datum":56.57,"type":"quantitative","scale":{"domain":[0,100],"range":[0,1446],"nice":false,"zero":false},"axis":null},"y2":{"datum":90.456}}},

{"data":{"name":"area"},"transform":[{"filter":"datum.zone === 'pod 400 m n.m.' && datum.pct > 0"}],"mark":{"type":"arc","radius":94,"stroke":"#2a2a2a","strokeWidth":0.8},"encoding":{"theta":{"field":"pct","type":"quantitative","stack":true},"order":{"field":"k","type":"quantitative"},"color":{"field":"k","type":"ordinal","scale":{"domain":[1,2,3,4,5],"range":["#A59A5E","#A8835A","#A66E48","#A5583A","#A33F2A"]},"legend":null},"x":{"field":"zone","type":"nominal","scale":{"type":"point","domain":["pod 400 m n.m.","401 - 700 m n.m."],"range":[164.5,492],"padding":0},"axis":null},"y":{"field":"zone","type":"nominal","scale":{"type":"point","domain":["pod 400 m n.m.","401 - 700 m n.m."],"range":[925.5,926],"padding":0},"axis":null}}},
{"data":{"name":"area"},"transform":[{"filter":"datum.zone === '401 - 700 m n.m.' && datum.pct > 0"}],"mark":{"type":"arc","radius":94,"stroke":"#2a2a2a","strokeWidth":0.8},"encoding":{"theta":{"field":"pct","type":"quantitative","stack":true},"order":{"field":"k","type":"quantitative"},"color":{"field":"k","type":"ordinal","scale":{"domain":[1,2,3,4,5],"range":["#A59A5E","#A8835A","#A66E48","#A5583A","#A33F2A"]},"legend":null},"x":{"field":"zone","type":"nominal","scale":{"type":"point","domain":["pod 400 m n.m.","401 - 700 m n.m."],"range":[164.5,492],"padding":0},"axis":null},"y":{"field":"zone","type":"nominal","scale":{"type":"point","domain":["pod 400 m n.m.","401 - 700 m n.m."],"range":[925.5,926],"padding":0},"axis":null}}},
{"data":{"name":"area"},"transform":[{"filter":"datum.zone === 'přes 700 m n.m.' && datum.pct > 0"}],"mark":{"type":"arc","radius":94,"stroke":"#2a2a2a","strokeWidth":0.8},"encoding":{"theta":{"field":"pct","type":"quantitative","stack":true},"order":{"field":"k","type":"quantitative"},"color":{"field":"k","type":"ordinal","scale":{"domain":[1,2,3,4,5],"range":["#A59A5E","#A8835A","#A66E48","#A5583A","#A33F2A"]},"legend":null},"x":{"field":"zone","type":"nominal","scale":{"type":"point","domain":["přes 700 m n.m.","Celkem"],"range":[164.5,492],"padding":0},"axis":null},"y":{"field":"zone","type":"nominal","scale":{"type":"point","domain":["přes 700 m n.m.","Celkem"],"range":[1169,1169.5],"padding":0},"axis":null}}},
{"data":{"name":"area"},"transform":[{"filter":"datum.zone === 'Celkem' && datum.pct > 0"}],"mark":{"type":"arc","radius":94,"stroke":"#2a2a2a","strokeWidth":0.8},"encoding":{"theta":{"field":"pct","type":"quantitative","stack":true},"order":{"field":"k","type":"quantitative"},"color":{"field":"k","type":"ordinal","scale":{"domain":[1,2,3,4,5],"range":["#A59A5E","#A8835A","#A66E48","#A5583A","#A33F2A"]},"legend":null},"x":{"field":"zone","type":"nominal","scale":{"type":"point","domain":["přes 700 m n.m.","Celkem"],"range":[164.5,492],"padding":0},"axis":null},"y":{"field":"zone","type":"nominal","scale":{"type":"point","domain":["přes 700 m n.m.","Celkem"],"range":[1169,1169.5],"padding":0},"axis":null}}},

{"data":{"name":"area"},"transform":[{"filter":"datum.zone === 'pod 400 m n.m.' && datum.pct > 0"}],"mark":{"type":"text","radius":94,"text":"█","font":"DejaVu Sans","fontSize":21,"color":"#ffff00","align":"center","baseline":"middle"},"encoding":{"theta":{"field":"pct","type":"quantitative","stack":true},"order":{"field":"k","type":"quantitative"},"detail":{"field":"k","type":"nominal"},"x":{"field":"zone","type":"nominal","scale":{"type":"point","domain":["pod 400 m n.m.","401 - 700 m n.m."],"range":[164.5,492],"padding":0},"axis":null},"y":{"field":"zone","type":"nominal","scale":{"type":"point","domain":["pod 400 m n.m.","401 - 700 m n.m."],"range":[925.5,926],"padding":0},"axis":null}}},
{"data":{"name":"area"},"transform":[{"filter":"datum.zone === 'pod 400 m n.m.' && datum.pct > 0"}],"mark":{"type":"text","radius":94,"fontSize":15,"align":"center","baseline":"middle"},"encoding":{"theta":{"field":"pct","type":"quantitative","stack":true},"order":{"field":"k","type":"quantitative"},"text":{"field":"k","type":"nominal"},"x":{"field":"zone","type":"nominal","scale":{"type":"point","domain":["pod 400 m n.m.","401 - 700 m n.m."],"range":[164.5,492],"padding":0},"axis":null},"y":{"field":"zone","type":"nominal","scale":{"type":"point","domain":["pod 400 m n.m.","401 - 700 m n.m."],"range":[925.5,926],"padding":0},"axis":null}}},
{"data":{"name":"area"},"transform":[{"filter":"datum.zone === '401 - 700 m n.m.' && datum.pct > 0"}],"mark":{"type":"text","radius":94,"text":"█","font":"DejaVu Sans","fontSize":21,"color":"#ffff00","align":"center","baseline":"middle"},"encoding":{"theta":{"field":"pct","type":"quantitative","stack":true},"order":{"field":"k","type":"quantitative"},"detail":{"field":"k","type":"nominal"},"x":{"field":"zone","type":"nominal","scale":{"type":"point","domain":["pod 400 m n.m.","401 - 700 m n.m."],"range":[164.5,492],"padding":0},"axis":null},"y":{"field":"zone","type":"nominal","scale":{"type":"point","domain":["pod 400 m n.m.","401 - 700 m n.m."],"range":[925.5,926],"padding":0},"axis":null}}},
{"data":{"name":"area"},"transform":[{"filter":"datum.zone === '401 - 700 m n.m.' && datum.pct > 0"}],"mark":{"type":"text","radius":94,"fontSize":15,"align":"center","baseline":"middle"},"encoding":{"theta":{"field":"pct","type":"quantitative","stack":true},"order":{"field":"k","type":"quantitative"},"text":{"field":"k","type":"nominal"},"x":{"field":"zone","type":"nominal","scale":{"type":"point","domain":["pod 400 m n.m.","401 - 700 m n.m."],"range":[164.5,492],"padding":0},"axis":null},"y":{"field":"zone","type":"nominal","scale":{"type":"point","domain":["pod 400 m n.m.","401 - 700 m n.m."],"range":[925.5,926],"padding":0},"axis":null}}},
{"data":{"name":"area"},"transform":[{"filter":"datum.zone === 'přes 700 m n.m.' && datum.pct > 0"}],"mark":{"type":"text","radius":94,"text":"█","font":"DejaVu Sans","fontSize":21,"color":"#ffff00","align":"center","baseline":"middle"},"encoding":{"theta":{"field":"pct","type":"quantitative","stack":true},"order":{"field":"k","type":"quantitative"},"detail":{"field":"k","type":"nominal"},"x":{"field":"zone","type":"nominal","scale":{"type":"point","domain":["přes 700 m n.m.","Celkem"],"range":[164.5,492],"padding":0},"axis":null},"y":{"field":"zone","type":"nominal","scale":{"type":"point","domain":["přes 700 m n.m.","Celkem"],"range":[1169,1169.5],"padding":0},"axis":null}}},
{"data":{"name":"area"},"transform":[{"filter":"datum.zone === 'přes 700 m n.m.' && datum.pct > 0"}],"mark":{"type":"text","radius":94,"fontSize":15,"align":"center","baseline":"middle"},"encoding":{"theta":{"field":"pct","type":"quantitative","stack":true},"order":{"field":"k","type":"quantitative"},"text":{"field":"k","type":"nominal"},"x":{"field":"zone","type":"nominal","scale":{"type":"point","domain":["přes 700 m n.m.","Celkem"],"range":[164.5,492],"padding":0},"axis":null},"y":{"field":"zone","type":"nominal","scale":{"type":"point","domain":["přes 700 m n.m.","Celkem"],"range":[1169,1169.5],"padding":0},"axis":null}}},
{"data":{"name":"area"},"transform":[{"filter":"datum.zone === 'Celkem' && datum.pct > 0"}],"mark":{"type":"text","radius":94,"text":"█","font":"DejaVu Sans","fontSize":21,"color":"#ffff00","align":"center","baseline":"middle"},"encoding":{"theta":{"field":"pct","type":"quantitative","stack":true},"order":{"field":"k","type":"quantitative"},"detail":{"field":"k","type":"nominal"},"x":{"field":"zone","type":"nominal","scale":{"type":"point","domain":["přes 700 m n.m.","Celkem"],"range":[164.5,492],"padding":0},"axis":null},"y":{"field":"zone","type":"nominal","scale":{"type":"point","domain":["přes 700 m n.m.","Celkem"],"range":[1169,1169.5],"padding":0},"axis":null}}},
{"data":{"name":"area"},"transform":[{"filter":"datum.zone === 'Celkem' && datum.pct > 0"}],"mark":{"type":"text","radius":94,"fontSize":15,"align":"center","baseline":"middle"},"encoding":{"theta":{"field":"pct","type":"quantitative","stack":true},"order":{"field":"k","type":"quantitative"},"text":{"field":"k","type":"nominal"},"x":{"field":"zone","type":"nominal","scale":{"type":"point","domain":["přes 700 m n.m.","Celkem"],"range":[164.5,492],"padding":0},"axis":null},"y":{"field":"zone","type":"nominal","scale":{"type":"point","domain":["přes 700 m n.m.","Celkem"],"range":[1169,1169.5],"padding":0},"axis":null}}},

{"data":{"name":"zones"},"transform":[{"filter":"datum.zone === 'pod 400 m n.m.' || datum.zone === '401 - 700 m n.m.'"}],"mark":{"type":"text","fontSize":14.5,"align":"center"},"encoding":{"text":{"field":"zone","type":"nominal"},"x":{"field":"zone","type":"nominal","scale":{"type":"point","domain":["pod 400 m n.m.","401 - 700 m n.m."],"range":[165,492.5],"padding":0},"axis":null},"y":{"datum":72.026,"type":"quantitative","scale":{"domain":[0,100],"range":[0,1446],"nice":false,"zero":false},"axis":null}}},
{"data":{"name":"zones"},"transform":[{"filter":"datum.zone === 'pod 400 m n.m.' || datum.zone === '401 - 700 m n.m.'"}],"mark":{"type":"text","fontSize":11,"fontStyle":"italic","align":"center"},"encoding":{"text":{"field":"pen","type":"nominal"},"x":{"field":"zone","type":"nominal","scale":{"type":"point","domain":["pod 400 m n.m.","401 - 700 m n.m."],"range":[165,492.5],"padding":0},"axis":null},"y":{"datum":73.064,"type":"quantitative","scale":{"domain":[0,100],"range":[0,1446],"nice":false,"zero":false},"axis":null}}},
{"data":{"name":"zones"},"transform":[{"filter":"datum.zone === 'přes 700 m n.m.' || datum.zone === 'Celkem'"}],"mark":{"type":"text","fontSize":14.5,"align":"center"},"encoding":{"text":{"field":"zone","type":"nominal"},"x":{"field":"zone","type":"nominal","scale":{"type":"point","domain":["přes 700 m n.m.","Celkem"],"range":[165,492.5],"padding":0},"axis":null},"y":{"datum":88.83,"type":"quantitative","scale":{"domain":[0,100],"range":[0,1446],"nice":false,"zero":false},"axis":null}}},
{"data":{"name":"zones"},"transform":[{"filter":"datum.zone === 'přes 700 m n.m.' || datum.zone === 'Celkem'"}],"mark":{"type":"text","fontSize":11,"fontStyle":"italic","align":"center"},"encoding":{"text":{"field":"pen","type":"nominal"},"x":{"field":"zone","type":"nominal","scale":{"type":"point","domain":["přes 700 m n.m.","Celkem"],"range":[165,492.5],"padding":0},"axis":null},"y":{"datum":89.938,"type":"quantitative","scale":{"domain":[0,100],"range":[0,1446],"nice":false,"zero":false},"axis":null}}},

{"data":{"values":[{}]},"mark":{"type":"text","text":"Kategorie dřevin","fontSize":15,"align":"left"},"encoding":{"x":{"datum":75.545,"type":"quantitative","scale":{"domain":[0,100],"range":[0,871],"nice":false,"zero":false},"axis":null},"y":{"datum":59.336,"type":"quantitative","scale":{"domain":[0,100],"range":[0,1446],"nice":false,"zero":false},"axis":null}}},
{"data":{"values":[{}]},"mark":{"type":"text","text":"Species category","fontSize":11,"fontStyle":"italic","align":"left"},"encoding":{"x":{"datum":75.545,"type":"quantitative","scale":{"domain":[0,100],"range":[0,871],"nice":false,"zero":false},"axis":null},"y":{"datum":60.581,"type":"quantitative","scale":{"domain":[0,100],"range":[0,1446],"nice":false,"zero":false},"axis":null}}},
{"data":{"name":"cats"},"mark":{"type":"point","shape":"square","filled":true,"size":1260,"opacity":1,"stroke":"#7a7a7a","strokeWidth":1},"encoding":{"x":{"datum":77.555,"type":"quantitative","scale":{"domain":[0,100],"range":[0,871],"nice":false,"zero":false},"axis":null},"y":{"field":"k","type":"quantitative","scale":{"domain":[1,5],"range":[906,1058],"nice":false,"zero":false},"axis":null},"color":{"field":"k","type":"ordinal","scale":{"domain":[1,2,3,4,5],"range":["#A59A5E","#A8835A","#A66E48","#A5583A","#A33F2A"]},"legend":null}}},
{"data":{"name":"cats"},"mark":{"type":"text","fontSize":11,"align":"center"},"encoding":{"text":{"field":"k","type":"nominal"},"x":{"datum":74.856,"type":"quantitative","scale":{"domain":[0,100],"range":[0,871],"nice":false,"zero":false},"axis":null},"y":{"field":"k","type":"quantitative","scale":{"domain":[1,5],"range":[914,1066],"nice":false,"zero":false},"axis":null}}},
{"data":{"name":"cats"},"mark":{"type":"text","fontSize":15,"align":"left"},"encoding":{"text":{"field":"cat","type":"nominal"},"x":{"datum":80.712,"type":"quantitative","scale":{"domain":[0,100],"range":[0,871],"nice":false,"zero":false},"axis":null},"y":{"field":"k","type":"quantitative","scale":{"domain":[1,5],"range":[904,1056],"nice":false,"zero":false},"axis":null}}},
{"data":{"name":"cats"},"mark":{"type":"text","fontSize":11,"fontStyle":"italic","align":"left"},"encoding":{"text":{"field":"en","type":"nominal"},"x":{"datum":80.712,"type":"quantitative","scale":{"domain":[0,100],"range":[0,871],"nice":false,"zero":false},"axis":null},"y":{"field":"k","type":"quantitative","scale":{"domain":[1,5],"range":[917,1069],"nice":false,"zero":false},"axis":null}}},

{"data":{"values":[{}]},"mark":{"type":"text","text":"114. PBP - Rozloha přírodě blízkých prvků podle kategorií dřevin a výškových pásem","fontSize":12.6,"align":"left"},"encoding":{"x":{"datum":0.344,"type":"quantitative","scale":{"domain":[0,100],"range":[0,871],"nice":false,"zero":false},"axis":null},"y":{"datum":91.77,"type":"quantitative","scale":{"domain":[0,100],"range":[0,1446],"nice":false,"zero":false},"axis":null}}},
{"data":{"values":[{}]},"mark":{"type":"text","text":"Area of near-natural elements - trees, broken down by species category and altitude zone","fontSize":10.5,"fontStyle":"italic","align":"left"},"encoding":{"x":{"datum":0.344,"type":"quantitative","scale":{"domain":[0,100],"range":[0,871],"nice":false,"zero":false},"axis":null},"y":{"datum":93.015,"type":"quantitative","scale":{"domain":[0,100],"range":[0,1446],"nice":false,"zero":false},"axis":null}}},
{"data":{"values":[{}]},"mark":{"type":"rule","color":"#8a8a8a","strokeWidth":2},"encoding":{"x":{"datum":0,"type":"quantitative","scale":{"domain":[0,100],"range":[0,871],"nice":false,"zero":false},"axis":null},"x2":{"datum":100},"y":{"datum":98.513,"type":"quantitative","scale":{"domain":[0,100],"range":[0,1446],"nice":false,"zero":false},"axis":null}}},
{"data":{"values":[{}]},"mark":{"type":"text","text":"438","font":"Liberation Serif","fontSize":16,"align":"left"},"encoding":{"x":{"datum":0.23,"type":"quantitative","scale":{"domain":[0,100],"range":[0,871],"nice":false,"zero":false},"axis":null},"y":{"datum":99.75,"type":"quantitative","scale":{"domain":[0,100],"range":[0,1446],"nice":false,"zero":false},"axis":null}}},
{"data":{"values":[{}]},"mark":{"type":"text","text":"Field-Map Inventory Analyst v. 7.029","fontSize":9.5,"fontStyle":"italic","align":"right"},"encoding":{"x":{"datum":99.656,"type":"quantitative","scale":{"domain":[0,100],"range":[0,871],"nice":false,"zero":false},"axis":null},"y":{"datum":99.378,"type":"quantitative","scale":{"domain":[0,100],"range":[0,1446],"nice":false,"zero":false},"axis":null}}}
]
}
